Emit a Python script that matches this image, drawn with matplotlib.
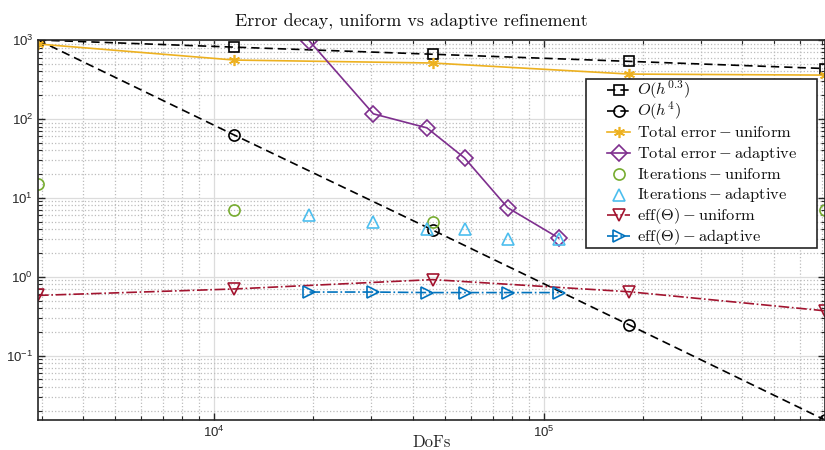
import numpy as np
import matplotlib
matplotlib.use('Agg')
import matplotlib.pyplot as plt
from matplotlib.ticker import LogLocator, FuncFormatter, NullFormatter
from matplotlib.patches import Rectangle

plt.rcParams['font.family'] = ['Liberation Sans', 'DejaVu Sans']

# data
dofs_uni = [2917, 11500, 46000, 182000, 714000]
dofs_ada = [19450, 30400, 44200, 57500, 77700, 111000]
rate_03 = [1000, 812, 660, 536, 435]
rate_4 = [1000, 62.5, 3.91, 0.244, 0.0153]
err_uni = [890, 557, 511, 370, 359]
err_ada = [970, 116, 77, 32, 7.5, 3.1]
it_uni = [15, 7, 5, 6, 7]
it_ada = [6, 5, 4, 4, 3, 3]
eff_uni = [0.58, 0.70, 0.92, 0.645, 0.37]
eff_ada = [0.64, 0.64, 0.63, 0.63, 0.63, 0.63]

labels = [r'$O(h^{0.3})$', r'$O(h^{4})$',
          r'$\mathrm{Total\ error} - \mathrm{uniform}$',
          r'$\mathrm{Total\ error} - \mathrm{adaptive}$',
          r'$\mathrm{Iterations} - \mathrm{uniform}$',
          r'$\mathrm{Iterations} - \mathrm{adaptive}$',
          r'$\mathrm{eff}(\Theta) - \mathrm{uniform}$',
          r'$\mathrm{eff}(\Theta) - \mathrm{adaptive}$']

c_orange = '#EDB120'
c_purple = '#7E2F8E'
c_green = '#77AC30'
c_cyan = '#4DBEEE'
c_red = '#A2142F'
c_blue = '#0072BD'
c_ax = '#262626'

fig = plt.figure(figsize=(8.25, 4.5), dpi=100)
ax = fig.add_axes([38/825, 30/450, 787/825, 380/450])

# pixel -> axes fraction (for the legend box only)
def px(x, y):
    return ((x - 38) / 787, (420 - y) / 380)

lw = 1.2
styles = [
    dict(color='k', ls='--', dashes=(5, 3), marker='s', ms=7, mfc='none'),
    dict(color='k', ls='--', dashes=(5, 3), marker='o', ms=8, mfc='none'),
    dict(color=c_orange, ls='-', marker=(6, 2, 0), ms=8),
    dict(color=c_purple, ls='-', marker='D', ms=8, mfc='none'),
    dict(color=c_green, ls='none', marker='o', ms=8, mfc='none'),
    dict(color=c_cyan, ls='none', marker='^', ms=9, mfc='none'),
    dict(color=c_red, ls='-.', marker='v', ms=9, mfc='none'),
    dict(color=c_blue, ls='-.', marker='>', ms=9, mfc='none'),
]
series = [(dofs_uni, rate_03), (dofs_uni, rate_4), (dofs_uni, err_uni), (dofs_ada, err_ada),
          (dofs_uni, it_uni), (dofs_ada, it_ada), (dofs_uni, eff_uni), (dofs_ada, eff_ada)]

for (xs, ys), st, lab in zip(series, styles, labels):
    ax.loglog(xs, ys, lw=lw, mew=1.2, label=lab, **st)

ax.set_xlim(dofs_uni[0], dofs_uni[-1])
ax.set_ylim(min(rate_4), 1000)

def fmt(v, pos):
    e = int(round(np.log10(v)))
    return r'$\mathdefault{10^{%d}}$' % e

for a in (ax.xaxis, ax.yaxis):
    a.set_major_locator(LogLocator(base=10, numticks=20))
    a.set_minor_locator(LogLocator(base=10, subs=np.arange(2, 10), numticks=50))
    a.set_major_formatter(FuncFormatter(fmt))
    a.set_minor_formatter(NullFormatter())

ax.grid(which='major', color='#dcdcdc', linestyle='-', linewidth=0.9)
ax.grid(which='minor', color='#bcbcbc', linestyle=':', linewidth=0.9)
ax.set_axisbelow(True)

ax.tick_params(which='both', direction='in', top=True, right=True, colors=c_ax,
               labelsize=9.5)
ax.tick_params(which='major', length=5, width=1.0)
ax.tick_params(which='minor', length=3, width=0.8)
for s in ax.spines.values():
    s.set_color(c_ax)
    s.set_linewidth(1.2)

ax.set_title('Error decay, uniform vs adaptive refinement', family='cmr10', fontsize=13,
             color='#111111', pad=10, x=0.474)
ax.set_xlabel('DoFs', family='cmr10', fontsize=12, color=c_ax)
ax.xaxis.set_label_coords(0.5, -0.058)
ax.xaxis.label.set_va('center')

# legend, laid out like the MATLAB one
x0, y0 = px(586, 248)
x1, y1 = px(817, 79)
ax.add_patch(Rectangle((x0, y0), x1 - x0, y1 - y0, transform=ax.transAxes,
                       facecolor='white', edgecolor=c_ax, lw=1.2, zorder=9, clip_on=False))
for i, (st, lab) in enumerate(zip(styles, labels)):
    yc = 90 + 20.9 * i
    ha, ya = px(607, yc)
    hb, _ = px(630, yc)
    hm, _ = px(619, yc)
    st2 = dict(st)
    mk = st2.pop('marker')
    ms = st2.pop('ms')
    mfc = st2.pop('mfc', None)
    if st2['ls'] != 'none':
        ax.plot([ha, hb], [ya, ya], transform=ax.transAxes, lw=lw, zorder=10, clip_on=False,
                **st2)
    ax.plot([hm], [ya], transform=ax.transAxes, marker=mk, ms=ms, mfc=mfc if mfc else st2['color'],
            mec=st2['color'], mew=1.2, ls='none', zorder=11, clip_on=False)
    tx, ty = px(637, yc + 5)
    ax.text(tx, ty, lab, transform=ax.transAxes, fontsize=11.8, math_fontfamily='cm',
            va='baseline', ha='left', color='#111111', zorder=12)

fig.savefig('out.png', dpi=100)
